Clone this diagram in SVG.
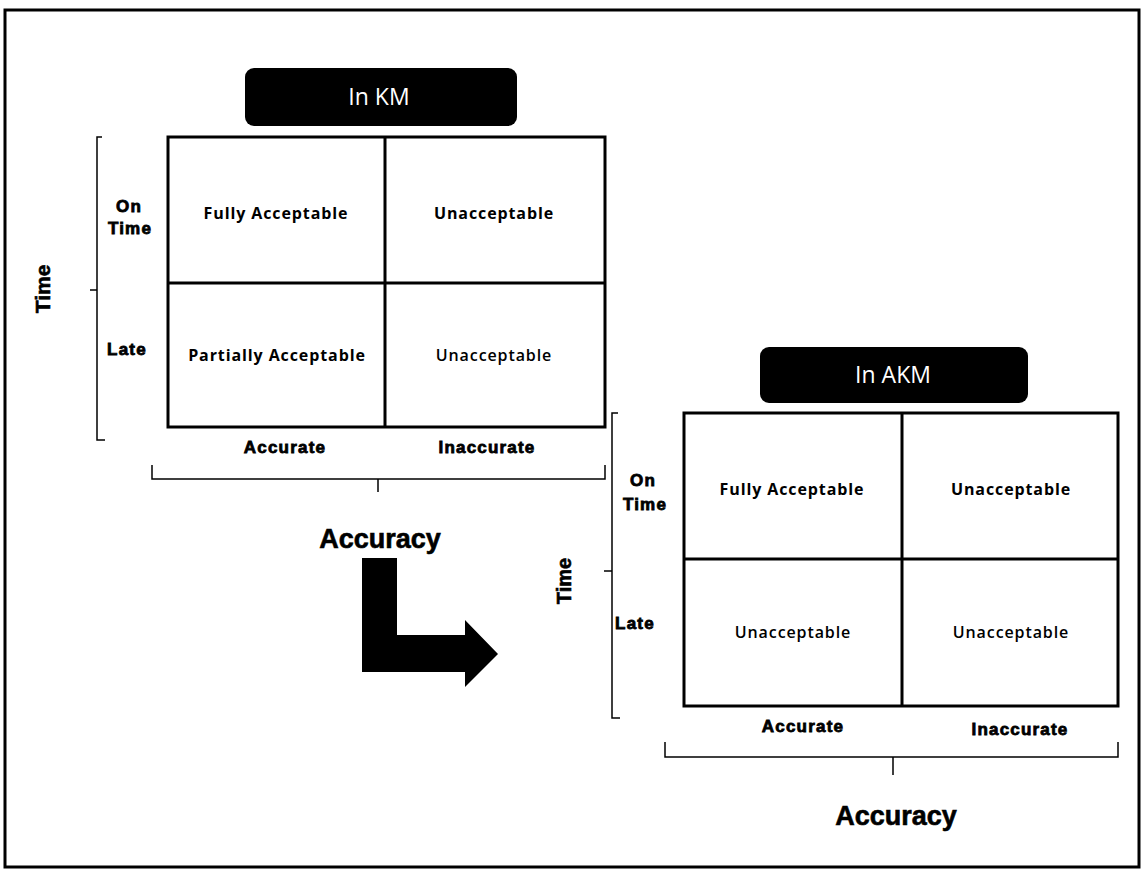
<svg xmlns="http://www.w3.org/2000/svg" width="1145" height="872" viewBox="0 0 1145 872">
<style>
.frame{fill:none;stroke:#000;stroke-width:3}
.grid{fill:none;stroke:#000;stroke-width:3}
.brace{fill:none;stroke:#000;stroke-width:1.5}
.title{fill:#000}
.ttl{font-family:"Open Sans","Noto Sans",sans-serif;font-size:23px;fill:#fff;text-anchor:middle}
.cell{font-family:"Open Sans","Noto Sans",sans-serif;font-size:16px;font-weight:bold;letter-spacing:0.9px;fill:#000;text-anchor:middle}
.cellr{font-family:"Open Sans","Noto Sans",sans-serif;font-size:16px;font-weight:600;letter-spacing:0.9px;fill:#000;text-anchor:middle}
.lbl{font-family:"Liberation Sans",Arial,sans-serif;font-size:17px;font-weight:bold;letter-spacing:1.2px;fill:#000;stroke:#000;stroke-width:0.8;text-anchor:middle}
.axis{font-family:"Liberation Sans",Arial,sans-serif;font-weight:bold;fill:#000;stroke:#000;stroke-width:0.6;text-anchor:middle}
</style>
<rect x="0" y="0" width="1145" height="872" fill="#fff"/>
<rect class="frame" x="5" y="10" width="1134" height="857"/>

<g id="km-title">
<rect class="title" x="245" y="68" width="272" height="58" rx="9"/>
<text class="ttl" x="379" y="105">In KM</text>
</g>
<g id="km-matrix">
<rect class="grid" x="168" y="137" width="437" height="290"/>
<line class="grid" x1="385" y1="137" x2="385" y2="427"/>
<line class="grid" x1="168" y1="283" x2="605" y2="283"/>
<text class="cell" x="276" y="219">Fully Acceptable</text>
<text class="cell" x="494" y="219">Unacceptable</text>
<text class="cell" x="277" y="361">Partially Acceptable</text>
<text class="cellr" x="494" y="361">Unacceptable</text>
</g>
<g id="km-rows">
<text class="lbl" x="129" y="212">On</text>
<text class="lbl" x="130" y="234">Time</text>
<text class="lbl" x="127" y="355">Late</text>
</g>
<g id="km-cols">
<text class="lbl" x="285" y="453">Accurate</text>
<text class="lbl" x="487" y="453">Inaccurate</text>
</g>
<g id="km-time-axis">
<text class="axis" font-size="21" transform="translate(50,289) rotate(-90)">Time</text>
</g>
<g id="km-accuracy-axis">
<text class="axis" font-size="27" x="380" y="548">Accuracy</text>
</g>

<g id="akm-title">
<rect class="title" x="760" y="347" width="268" height="56" rx="9"/>
<text class="ttl" x="893" y="383">In AKM</text>
</g>
<g id="akm-matrix">
<rect class="grid" x="684" y="413" width="434" height="293"/>
<line class="grid" x1="902" y1="413" x2="902" y2="706"/>
<line class="grid" x1="684" y1="559" x2="1118" y2="559"/>
<text class="cell" x="792" y="495">Fully Acceptable</text>
<text class="cell" x="1011" y="495">Unacceptable</text>
<text class="cellr" x="793" y="638">Unacceptable</text>
<text class="cellr" x="1011" y="638">Unacceptable</text>
</g>
<g id="akm-rows">
<text class="lbl" x="643" y="486">On</text>
<text class="lbl" x="645" y="510">Time</text>
<text class="lbl" x="635" y="629">Late</text>
</g>
<g id="akm-cols">
<text class="lbl" x="803" y="732">Accurate</text>
<text class="lbl" x="1020" y="735">Inaccurate</text>
</g>
<g id="akm-time-axis">
<text class="axis" font-size="20" transform="translate(571,581) rotate(-90)">Time</text>
</g>
<g id="akm-accuracy-axis">
<text class="axis" font-size="27" x="896" y="825">Accuracy</text>
</g>

<g id="connectors">
<path class="brace" d="M102,137 H97 V440 H105 M97,290 H90"/>
<path class="brace" d="M152,465 V479 H605 V465 M378,479 V492"/>
<path class="brace" d="M618,413 H612 V718 H620 M612,571 H604"/>
<path class="brace" d="M665,742 V757 H1118 V742 M893,757 V775"/>
<path fill="#000" d="M362,558 H397 V635 H465 V620 L498,654 L465,687 V672 H362 Z"/>
</g>
</svg>
